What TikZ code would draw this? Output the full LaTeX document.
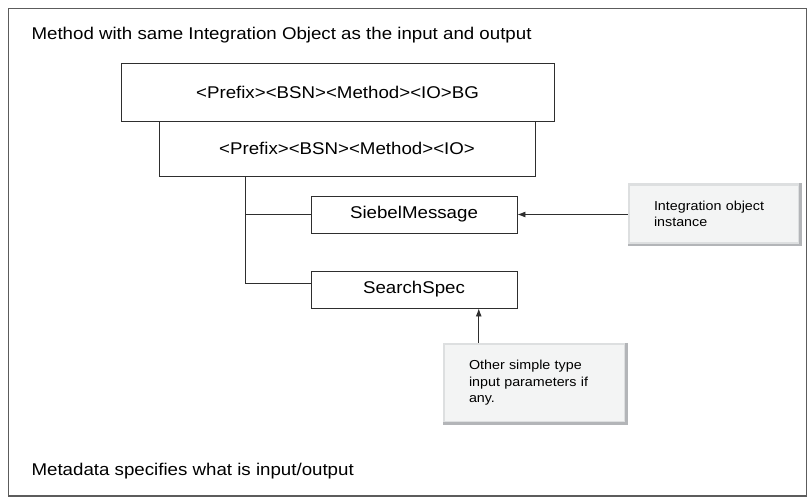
\documentclass[tikz,border=0pt]{standalone}
\usepackage{fontspec}
\setmainfont{Liberation Sans}[FakeStretch=1.1]
\usepackage{tikz}
\usetikzlibrary{positioning,arrows.meta}
\definecolor{LineGrey}{HTML}{2E2E2E}
\definecolor{FrameGrey}{HTML}{5C5C5C}
\definecolor{NoteFill}{HTML}{F3F4F4}
\definecolor{NoteLight}{HTML}{DDDFE0}
\definecolor{NoteEdge}{HTML}{B3B5B8}

\tikzset{
  box/.style={draw=LineGrey,line width=0.9pt,fill=white,inner sep=0pt,
    font=\fontsize{17}{20}\selectfont},
  note/.style={fill=NoteFill,draw=NoteLight,line width=2.5pt,align=left,
    inner xsep=25pt,inner ysep=0pt,font=\fontsize{13}{16.5}\selectfont},
  link/.style={LineGrey,line width=0.9pt},
  feed/.style={link,-{Latex[length=8pt,width=6pt]}}
}

\begin{document}
\begin{tikzpicture}[x=1pt,y=-1pt]
  \useasboundingbox (0,0) rectangle (809,498);
  % outer frame
  \draw[FrameGrey,line width=0.8pt] (8,8) rectangle (806,496);
  \draw[FrameGrey,line width=1.6pt] (8,496) -- (806,496);
  \node[anchor=base west,font=\fontsize{17}{20}\selectfont] (caption) at (28,39)
    {Method with same Integration Object as the input and output};
  \node[anchor=base west,font=\fontsize{17}{20}\selectfont] (footer) at (28,475)
    {Metadata specifies what is input/output};

  % method boxes
  \node[box,minimum width=433pt,minimum height=58pt] (bg) at (337.5,92)
    {<Prefix><BSN><Method><IO>BG};
  \node[box,minimum width=376pt,minimum height=55pt] (io) at (347,148.5)
    {<Prefix><BSN><Method><IO>};
  \node[box,minimum width=206pt,minimum height=37pt] (siebel) at (414,214.5)
    {SiebelMessage};
  \node[box,minimum width=206pt,minimum height=37pt] (search) at (414,289.5)
    {SearchSpec};

  % notes
  \node[note,text width=120pt,minimum height=59pt] (instnote) at (714,214)
    {Integration object\\instance};
  \node[note,text width=131pt,minimum height=78pt] (paramnote) at (534.5,383)
    {Other simple type\\input parameters if\\any.};
  \foreach \n in {instnote,paramnote}
    \draw[NoteEdge,line width=2.5pt] (\n.north east) -- (\n.south east) -- (\n.south west);

  % tree
  \draw[link] (io.south west) ++(87,0) coordinate (trunk) |- ([yshift=6.5pt]search.west);
  \draw[link] (trunk |- siebel.west) -- (siebel.west);

  % inputs
  \draw[feed] (instnote.west |- siebel.east) -- (siebel.east);
  \draw[feed] (paramnote.north west) ++(36,0) coordinate (up) -- (up |- search.south);
\end{tikzpicture}
\end{document}
